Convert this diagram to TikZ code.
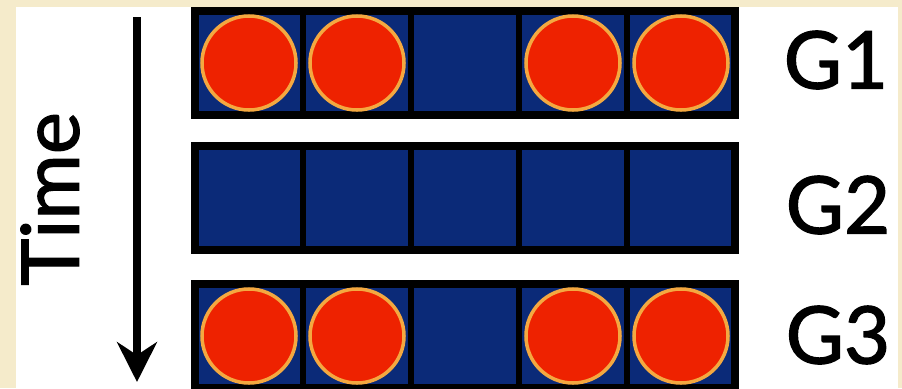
\documentclass[tikz,border=0pt]{standalone}
\usepackage{fontspec}
\setmainfont{Lato}
\newfontfamily\labelfont{Lato}[FakeBold=1.6]
\usetikzlibrary{arrows.meta}
\definecolor{paper}{HTML}{F5EBCB}
\definecolor{slotblue}{HTML}{0B2A78}
\definecolor{ballred}{HTML}{EE2200}
\definecolor{ballrim}{HTML}{F4A840}
\begin{document}
\begin{tikzpicture}[x=0.03cm, y=-0.03cm, >={Stealth[length=34pt, width=34pt]},
    slot/.style={draw=black, line width=5.5pt, fill=slotblue, minimum width=3.24cm,
        minimum height=3.12cm, inner sep=0pt, outer sep=0pt},
    ball/.style={circle, draw=ballrim, line width=3pt, fill=ballred, minimum size=2.82cm, inner sep=0pt},
    glabel/.style={font=\fontsize{68}{72}\labelfont}]
    \useasboundingbox (0,0) rectangle (902,388);
    \fill[paper] (0,0) rectangle (902,388);
    \fill[white] (16,7) rectangle (898,388);
    % the three generations
    \foreach \r/\y in {1/63, 2/198, 3/336} {
        \foreach \c/\x in {1/249, 2/357, 3/465, 4/573, 5/681}
            \node[slot] (r\r c\c) at (\x, \y) {};
        \draw[line width=7pt] (r\r c1.north west) rectangle (r\r c5.south east);
    }
    \foreach \r in {1, 3} {
        \foreach \c in {1, 2, 4, 5}
            \node[ball] (b\r c\c) at (r\r c\c) {};
    }
    \node[glabel] (g1) at (836, 60) {G1};
    \node[glabel] (g2) at (838, 205) {G2};
    \node[glabel] (g3) at (838, 335) {G3};
    % time axis
    \coordinate (t0) at (137, 17);
    \coordinate (t1) at (137, 382);
    \draw[->, line width=7pt] (t0) -- (t1);
    \node[glabel, rotate=90] (time) at (50, 199) {Time};
\end{tikzpicture}
\end{document}
